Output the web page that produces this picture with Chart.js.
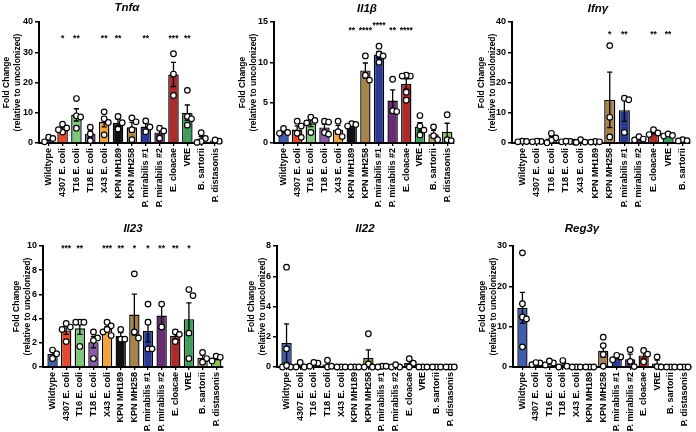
<!DOCTYPE html>
<html>
<head>
<meta charset="utf-8">
<title>Cytokine expression fold change</title>
<script src="https://cdn.jsdelivr.net/npm/chart.js@4.4.1/dist/chart.umd.min.js"></script>
<style>
  html, body { margin: 0; padding: 0; background: #fff; overflow: hidden; }
  #wrap { position: relative; width: 696px; height: 432px; }
  #wrap canvas { position: absolute; }
</style>
</head>
<body>
<div id="wrap">
  <canvas id="tnfa"></canvas>
  <canvas id="il1b"></canvas>
  <canvas id="ifng"></canvas>
  <canvas id="il23"></canvas>
  <canvas id="il22"></canvas>
  <canvas id="reg3g"></canvas>
</div>
<script>
(function () {
    "use strict";

    // Colonizing strains (x categories)
    const categories = ['Wildtype', '4307 E. coli', 'T16 E. coli', 'T18 E. coli', 'X43 E. coli',
        'KPN MH189', 'KPN MH258', 'P. mirabilis #1', 'P. mirabilis #2', 'E. cloacae',
        'VRE', 'B. sartorii', 'P. distasonis'];

    const barColors = ['#3f5eaf', '#e8482c', '#7cc77c', '#8a5ba7', '#f3a23c', '#111111', '#a6834b',
        '#2b3a92', '#6a2c74', '#ad2b2a', '#3f9d5c', '#b5a366', '#8fc354'];

    // Individual mice, fold change relative to uncolonized
    const tnfaPoints = [
        [1.9, 1.5, 0.4], [6.2, 5.0, 3.6, 4.4], [14.7, 9.0, 8.6, 4.9], [5.2, 3.0, 0.8],
        [10.3, 8.0, 6.8, 2.7], [8.8, 6.7, 4.6], [8.3, 7.0, 4.4, 1.1], [7.3, 5.3, 3.7],
        [4.9, 4.0, 1.6], [29.5, 22.8, 15.7], [17.4, 8.8, 8.0, 5.9], [3.4, 1.5, 0.5, 0.2], [0.6, 1.0]
    ];
    const il1bPoints = [
        [1.8, 1.2, 1.3], [2.7, 2.1, 1.2, 0.7], [3.2, 2.8, 2.5, 1.3], [2.7, 2.6, 1.3, 1.1],
        [2.7, 1.4, 0.8], [2.4, 2.1, 2.3], [10.8, 8.4, 7.8], [12.0, 11.0, 10.8, 10.0],
        [7.9, 4.0, 3.9], [8.3, 8.4, 8.3, 6.3, 5.3], [3.4, 2.1, 1.6, 1.0], [2.0, 0.9, 0.4], [3.5, 0.4, 0.3]
    ];
    const ifngPoints = [
        [0.6, 0.4, 0.5], [0.5, 0.6, 0.4], [3.2, 1.7, 0.9, 0.1], [0.4, 0.5, 0.6, 0.3],
        [1.1, 0.3, 0.2], [0.5, 0.4, 0.3], [32.2, 8.5, 2.0], [14.8, 14.3, 3.5],
        [1.0, 2.1, 1.3], [4.4, 2.8, 3.3], [2.3, 3.0, 2.5], [1.1, 0.8, 0.7]
    ];
    const il23Points = [
        [1.4, 1.1, 0.7], [3.3, 3.6, 3.1, 2.1], [3.7, 3.7, 3.7, 1.7], [2.9, 2.4, 2.2, 0.7],
        [3.7, 3.4, 2.9, 3.1, 2.6], [3.1, 2.3, 2.3], [7.7, 2.9, 2.4], [5.2, 3.7, 1.5, 1.5],
        [5.2, 3.3], [2.9, 2.7, 2.1], [5.9, 6.4, 2.8, 0.7], [1.2, 0.7, 0.4], [0.9, 0.8, 0.5]
    ];
    const il22Points = [
        [6.6, 1.2, 0.0, 0.0, 0.1], [0.3, 0.0, 0.0], [0.25, 0.05, 0.3], [0.0, 0.05, 0.45],
        [0, 0, 0], [0, 0, 0], [2.2, 0.2, 0.0, 0.0], [0.05, 0.0, 0.05],
        [0.0, 0.0, 0.15], [0.55, 0.25, 0.0], [0, 0, 0], [0, 0, 0], [0, 0, 0]
    ];
    const reg3gPoints = [
        [28.3, 15.7, 12.4, 11.9, 5.0], [1.0, 0.6, 1.1], [1.0, 0.5, 1.5], [1.6, 0.2, 0.0],
        [0, 0, 0], [0, 0, 0], [7.4, 5.3, 3.1, 0.2], [2.5, 1.8, 2.9],
        [4.3, 1.4, 0.1], [4.1, 3.2, 1.3], [2.5, 0.1, 0.0], [0, 0, 0], [0, 0, 0]
    ];

    // Significance marks vs. wildtype
    const tnfaStars = ['', '*', '**', '', '**', '**', '', '**', '', '***', '**', '', ''];
    const il1bStars = ['', '', '', '', '', '**', '****', '****', '**', '****', '', '', ''];
    const ifngStars = ['', '', '', '', '', '', '*', '**', '', '**', '**', ''];
    const il23Stars = ['', '***', '**', '', '***', '**', '*', '*', '**', '**', '*', '', ''];
    const noStars = [];

    const panels = [
        {id: 'tnfa', title: 'Tnfα', points: tnfaPoints, stars: tnfaStars, yMax: 40, yStep: 10, starAt: 35.5},
        {id: 'il1b', title: 'Il1β', points: il1bPoints, stars: il1bStars, yMax: 15, yStep: 5, starAt: 14.3},
        {id: 'ifng', title: 'Ifnγ', points: ifngPoints, stars: ifngStars, yMax: 40, yStep: 10, starAt: 36.7},
        {id: 'il23', title: 'Il23', points: il23Points, stars: il23Stars, yMax: 10, yStep: 2, starAt: 10},
        {id: 'il22', title: 'Il22', points: il22Points, stars: noStars, yMax: 8, yStep: 2, starAt: 8},
        {id: 'reg3g', title: 'Reg3γ', points: reg3gPoints, stars: noStars, yMax: 30, yStep: 10, starAt: 30}
    ];

    // Page placement of each panel (page pixels)
    const frames = {
        tnfa: {left: 0, top: 0, width: 232, height: 215, axisX: 39, right: 222, plotTop: 22, plotBottom: 143, titleX: 127, titleY: 8, yTitlePad: 2},
        il1b: {left: 232, top: 0, width: 232, height: 215, axisX: 274, right: 454, plotTop: 22, plotBottom: 143, titleX: 367, titleY: 9, yTitlePad: 6},
        ifng: {left: 464, top: 0, width: 232, height: 215, axisX: 512, right: 690, plotTop: 22, plotBottom: 143, titleX: 598, titleY: 9, yTitlePad: 13},
        il23: {left: 0, top: 215, width: 232, height: 217, axisX: 43, right: 223, plotTop: 246, plotBottom: 367, titleX: 133, titleY: 229, yTitlePad: 12},
        il22: {left: 232, top: 215, width: 232, height: 217, axisX: 277, right: 457, plotTop: 246, plotBottom: 367, titleX: 365, titleY: 229, yTitlePad: 15},
        reg3g: {left: 464, top: 215, width: 232, height: 217, axisX: 513, right: 696, plotTop: 246, plotBottom: 367, titleX: 582, titleY: 229, yTitlePad: 14}
    };

    const FONT = "'Liberation Sans', Arial, sans-serif";
    Chart.defaults.font.family = FONT;
    Chart.defaults.color = '#000';

    function stats(vals) {
        const n = vals.length;
        const mean = vals.reduce((a, b) => a + b, 0) / n;
        const sd = n > 1 ? Math.sqrt(vals.reduce((a, v) => a + (v - mean) * (v - mean), 0) / (n - 1)) : 0;
        return {mean: mean, sem: sd / Math.sqrt(n)};
    }

    // horizontal spread of overlapping dots, in category units
    function spread(vals, yMax) {
        const tol = yMax * 0.055;
        const order = vals.map((v, i) => i).sort((a, b) => vals[b] - vals[a]);
        const off = vals.map(() => 0);
        const done = [];
        const slots = [0, 0.3, -0.3, 0.6, -0.6, 0.9, -0.9];
        order.forEach(function (i) {
            const taken = done.filter(j => Math.abs(vals[j] - vals[i]) < tol).map(j => off[j]);
            const s = slots.find(c => taken.every(t => Math.abs(t - c) > 0.15));
            off[i] = s === undefined ? 0 : s;
            done.push(i);
        });
        return off;
    }

    // error bars, title and significance stars
    const decor = {
        id: 'decor',
        afterDatasetDraw(chart, args, opts) {
            if (args.index !== 0) return;
            const ctx = chart.ctx, x = chart.scales.x, y = chart.scales.y;
            ctx.save();
            ctx.strokeStyle = '#000';
            ctx.lineWidth = 1.3;
            opts.means.forEach(function (m, i) {
                const e = opts.sems[i];
                if (!(e > 0)) return;
                const px = x.getPixelForValue(i);
                const hi = y.getPixelForValue(m + e);
                const lo = y.getPixelForValue(Math.max(0, m - e));
                const cap = 2.6;
                ctx.beginPath();
                ctx.moveTo(px, lo); ctx.lineTo(px, hi);
                ctx.moveTo(px - cap, hi); ctx.lineTo(px + cap, hi);
                ctx.moveTo(px - cap, lo); ctx.lineTo(px + cap, lo);
                ctx.stroke();
            });
            ctx.restore();
        },
        afterDraw(chart, args, opts) {
            const ctx = chart.ctx, x = chart.scales.x, y = chart.scales.y;
            ctx.save();
            ctx.fillStyle = '#000';
            ctx.textAlign = 'center';
            ctx.textBaseline = 'middle';
            ctx.font = 'italic bold 11.5px ' + FONT;
            ctx.fillText(opts.title, opts.titleX, opts.titleY);

            ctx.font = 'bold 8.5px ' + FONT;
            ctx.textBaseline = 'alphabetic';
            const base = y.getPixelForValue(opts.starAt) + 5;
            let prev = null;
            opts.stars.forEach(function (s, i) {
                if (!s) { prev = null; return; }
                const px = x.getPixelForValue(i);
                const w = ctx.measureText(s).width;
                let raised = false;
                if (prev && !prev.raised && (px - w / 2) - (prev.px + prev.w / 2) < 1) raised = true;
                ctx.fillText(s, px, base - (raised ? 5 : 0));
                prev = {px: px, w: w, raised: raised};
            });
            ctx.restore();
        }
    };

    panels.forEach(function (p) {
        const f = frames[p.id];
        const labels = categories.slice(0, p.points.length);
        const st = p.points.map(stats);
        const means = st.map(s => s.mean);
        const sems = st.map(s => s.sem);
        const dots = [];
        p.points.forEach(function (vals, i) {
            const off = spread(vals, p.yMax);
            vals.forEach((v, j) => dots.push({x: i + off[j], y: v}));
        });

        const canvas = document.getElementById(p.id);
        canvas.width = f.width;
        canvas.height = f.height;
        canvas.style.left = f.left + 'px';
        canvas.style.top = f.top + 'px';

        new Chart(canvas, {
            type: 'bar',
            data: {
                datasets: [{
                    type: 'bar',
                    data: means.map((m, i) => ({x: i, y: m})),
                    backgroundColor: barColors.slice(0, labels.length),
                    borderColor: '#000',
                    borderWidth: 1.4,
                    categoryPercentage: 1,
                    barPercentage: 0.76,
                    order: 2
                }, {
                    type: 'scatter',
                    data: dots,
                    pointRadius: 2.8,
                    pointBackgroundColor: '#fff',
                    pointBorderColor: '#000',
                    pointBorderWidth: 1.2,
                    clip: false,
                    order: 1
                }]
            },
            options: {
                responsive: false,
                animation: false,
                layout: {
                    padding: {top: f.plotTop - f.top, right: f.left + f.width - f.right, left: 0, bottom: 0}
                },
                plugins: {
                    legend: {display: false},
                    tooltip: {enabled: false},
                    decor: {
                        means: means, sems: sems, stars: p.stars, starAt: p.starAt,
                        title: p.title, titleX: f.titleX - f.left, titleY: f.titleY - f.top
                    }
                },
                scales: {
                    x: {
                        type: 'linear',
                        min: -0.7,
                        max: labels.length - 0.5,
                        bounds: 'data',
                        offset: false,
                        afterBuildTicks: function (s) {
                            s.ticks = labels.map((l, i) => ({value: i}));
                        },
                        afterFit: function (s) {
                            s.height = f.top + f.height - f.plotBottom;
                            s.paddingLeft = 0;
                            s.paddingRight = 0;
                        },
                        grid: {offset: false, drawOnChartArea: false, drawTicks: true, tickLength: 3, color: '#000', lineWidth: 1.3},
                        border: {color: '#000', width: 2},
                        ticks: {
                            autoSkip: false, maxRotation: 90, minRotation: 90, padding: 2, color: '#000',
                            font: {size: 9, weight: 'bold'},
                            callback: v => labels[v]
                        }
                    },
                    y: {
                        min: 0,
                        max: p.yMax,
                        afterFit: function (s) {
                            s.width = f.axisX - f.left;
                            s.paddingTop = 0;
                            s.paddingBottom = 0;
                        },
                        ticks: {stepSize: p.yStep, padding: 2, color: '#000', font: {size: 9, weight: 'bold'}},
                        grid: {drawOnChartArea: false, tickLength: 4, color: '#000', lineWidth: 1.5},
                        border: {color: '#000', width: 2},
                        title: {
                            display: true,
                            text: ['Fold Change', '(relative to uncolonized)'],
                            color: '#000',
                            font: {size: 8.5, weight: 'bold', lineHeight: 1.2},
                            padding: {top: f.yTitlePad, bottom: 0}
                        }
                    }
                }
            },
            plugins: [decor]
        });
    });
})();
</script>
</body>
</html>
